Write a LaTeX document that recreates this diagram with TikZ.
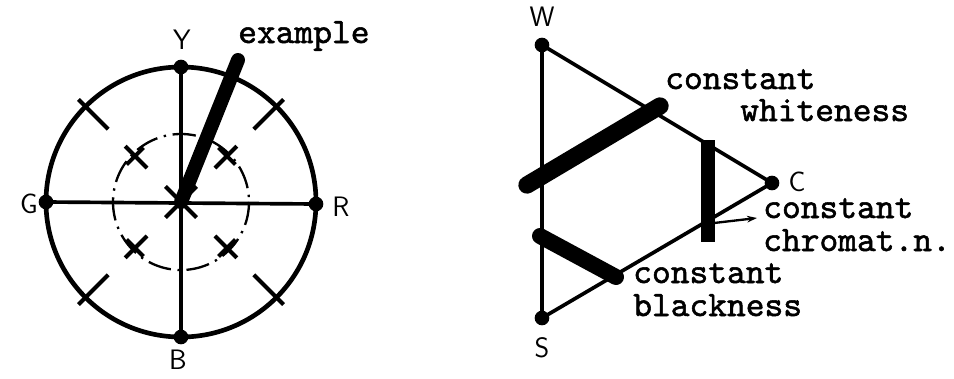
\documentclass[tikz,border=0pt]{standalone}
\usepackage{fontspec}
\newfontfamily\typefont{lmmono10-regular}[Extension=.otf,FakeBold=1.5]
\usetikzlibrary{arrows.meta,calc}

\begin{document}
\begin{tikzpicture}[x=0.3mm,y=-0.3mm,
  dotnode/.style={circle,fill=black,inner sep=0pt,minimum size=4.4mm},
  ringline/.style={line width=1.4mm},
  axisline/.style={line width=1.1mm},
  tickline/.style={line width=1.2mm},
  barline/.style={line width=4.8mm,line cap=round},
  letterlabel/.style={font=\sffamily\fontsize{24}{28}\selectfont,inner sep=0pt},
  typelabel/.style={font=\typefont\fontsize{30.5}{34}\selectfont,inner sep=0pt,anchor=base west}
]
  \useasboundingbox (0,0) rectangle (954,378);
  % Hue circle
  \coordinate (ctr) at (181,202);
  \draw[ringline] (ctr) circle (135);
  \draw[line width=0.7mm,dash pattern=on 7mm off 2mm on 0.7mm off 2mm] (ctr) circle (68);
  \node[dotnode] (Ydot) at (181,67) {};
  \node[dotnode] (Bdot) at (181,337) {};
  \node[dotnode] (Gdot) at (46,202) {};
  \node[dotnode] (Rdot) at (316,204) {};
  \draw[axisline] (Ydot.center) -- (Bdot.center);
  \draw[axisline] (Gdot.center) -- (Rdot.center);
  % Ticks and crosses
  \foreach \a in {45,135,225,315}{
    \draw[tickline] ($(ctr)+(\a:103)$) -- ($(ctr)+(\a:145)$);
    \draw[tickline] ($(ctr)+(\a:48)$) -- ($(ctr)+(\a:79)$);
    \draw[tickline] ($(ctr)+(\a:65)+(\a+90:12)$) -- ($(ctr)+(\a:65)+(\a-90:12)$);
  }
  \draw[tickline] ($(ctr)+(45:22)$) -- ($(ctr)+(225:22)$);
  \draw[tickline] ($(ctr)+(135:22)$) -- ($(ctr)+(315:22)$);
  % Example bar
  \coordinate (exend) at (238,60);
  \draw[barline,line width=4.2mm] (ctr) -- (exend);
  % Labels
  \node[letterlabel] (Ylab) at (182,40) {Y};
  \node[letterlabel] (Blab) at (178,360) {B};
  \node[letterlabel] (Glab) at (29,204) {G};
  \node[letterlabel] (Rlab) at (341,207) {R};
  \node[typelabel] (exlab) at (238,43) {example};
  % Triangle
  \node[dotnode] (Wdot) at (542,45) {};
  \node[dotnode] (Sdot) at (542,318) {};
  \node[dotnode] (Cdot) at (772,183) {};
  \draw[axisline] (Wdot.center) -- (Sdot.center) -- (Cdot.center) -- cycle;
  \node[letterlabel] (Wlab) at (542,17) {W};
  \node[letterlabel] (Slab) at (542,348) {S};
  \node[letterlabel] (Clab) at (797,182) {C};
  % Constant lines
  \draw[barline,line width=5.2mm] (527,185) -- (660,106);
  \draw[barline] (540,236) -- (616,277);
  \draw[barline,line cap=butt,line width=4.2mm] (708,140) -- (708,242);
  \coordinate (arrfoot) at (714,223);
  \coordinate (arrtip) at (757,218);
  \draw[line width=0.7mm,-{Stealth[length=3mm,width=2mm]}] (arrfoot) -- (arrtip);
  % Texts
  \node[typelabel] (white1) at (665,89) {constant};
  \node[typelabel] (white2) at (740,121) {whiteness};
  \node[typelabel] (chrom1) at (763,218) {constant};
  \node[typelabel] (chrom2) at (763,251) {chromat.n.};
  \node[typelabel] (black1) at (633,283) {constant};
  \node[typelabel] (black2) at (633,316) {blackness};
\end{tikzpicture}
\end{document}
